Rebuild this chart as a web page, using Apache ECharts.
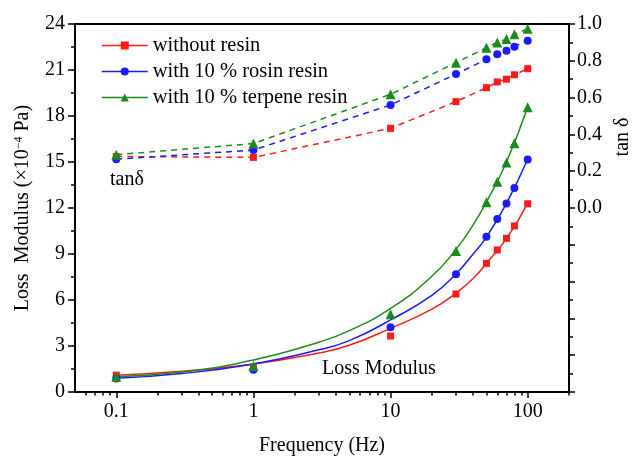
<!DOCTYPE html>
<html>
<head>
<meta charset="utf-8">
<script src="https://cdn.jsdelivr.net/npm/echarts@6/dist/echarts.min.js"></script>
<style>
html,body{margin:0;padding:0;background:#fff;}
#chart{width:632px;height:462px;}
</style>
</head>
<body>
<div id="chart"></div>
<script>
// ---- data ----
var seriesNames = ['without resin', 'with 10 % rosin resin', 'with 10 % terpene resin'];
var freq = [0.1, 1, 10, 30, 50, 60, 70, 80, 100];            // Hz
var lossRed   = [1.1, 1.6, 3.65, 6.39, 8.39, 9.26, 10.02, 10.83, 12.28];
var lossBlue  = [0.88, 1.45, 4.22, 7.68, 10.13, 11.28, 12.3, 13.3, 15.17];
var lossGreen = [1.0, 1.7, 5.07, 9.2, 12.37, 13.72, 14.96, 16.22, 18.57];
var fitFreq   = [0.1, 0.3, 1, 3, 5, 10, 20, 30, 40, 50, 70, 100];
var fitRed    = [1.1, 1.35, 1.83, 2.55, 3.05, 4.15, 5.4, 6.45, 7.4, 8.4, 10.0, 12.3];
var fitBlue   = [0.9, 1.2, 1.83, 2.75, 3.35, 4.7, 6.3, 7.7, 9.0, 10.1, 12.3, 15.2];
var fitGreen  = [1.0, 1.3, 2.09, 3.25, 4.0, 5.45, 7.55, 9.3, 10.9, 12.4, 15.0, 18.6];
var tanRed    = [0.28, 0.275, 0.433, 0.578, 0.654, 0.685, 0.70, 0.724, 0.757];
var tanBlue   = [0.265, 0.315, 0.56, 0.728, 0.808, 0.835, 0.855, 0.877, 0.909];
var tanGreen  = [0.29, 0.35, 0.618, 0.79, 0.871, 0.90, 0.918, 0.944, 0.974];
var xMajorTicks = [0.1, 1, 10, 100];
var xMinorTicks = [0.06, 0.07, 0.08, 0.09, 0.2, 0.3, 0.4, 0.5, 0.6, 0.7, 0.8, 0.9,
                   2, 3, 4, 5, 6, 7, 8, 9, 20, 30, 40, 50, 60, 70, 80, 90, 200];
var xRange = [0.05, 200];

var colors = ['#ff1a1a', '#1a1aff', '#1b8c1b'];
var symbols = ['rect', 'circle', 'triangle'];
var symSizes = [7, 8, 10];
var FONT = "'Liberation Serif', 'Times New Roman', serif";
var lg = Math.log10;

function pairs(xs, ys) { return xs.map(function (x, i) { return [lg(x), ys[i]]; }); }

var lossSets = [lossRed, lossBlue, lossGreen];
var fitSets = [fitRed, fitBlue, fitGreen];
var tanSets = [tanRed, tanBlue, tanGreen];

var series = [];
for (var k = 0; k < 3; k++) {
  series.push({
    name: seriesNames[k] + ' fit', type: 'line', xAxisIndex: 0, yAxisIndex: 0,
    data: pairs(fitFreq, fitSets[k]), smooth: 0.5, showSymbol: false,
    lineStyle: { color: colors[k], width: 1.5 }, itemStyle: { color: colors[k] },
    silent: true, z: 2
  });
  series.push({
    name: seriesNames[k] + ' loss', type: 'scatter', xAxisIndex: 0, yAxisIndex: 0,
    data: pairs(freq, lossSets[k]), symbol: symbols[k], symbolSize: symSizes[k],
    itemStyle: { color: colors[k], opacity: 1 }, z: 3
  });
  series.push({
    name: seriesNames[k], type: 'line', xAxisIndex: 0, yAxisIndex: 1,
    data: pairs(freq, tanSets[k]), symbol: symbols[k], symbolSize: symSizes[k],
    showAllSymbol: true,
    lineStyle: { color: colors[k], width: 1.5, type: [6, 5] },
    itemStyle: { color: colors[k] }, z: 3
  });
}

var chart = echarts.init(document.getElementById('chart'), null, { renderer: 'canvas' });
var axisLineStyle = { color: '#000', width: 2 };
chart.setOption({
  animation: false,
  textStyle: { fontFamily: FONT, color: '#000' },
  grid: { left: 75, right: 63, top: 24, bottom: 70, show: true, borderColor: '#000', borderWidth: 2, backgroundColor: 'transparent' },
  legend: {
    data: seriesNames, orient: 'vertical', left: 96, top: 30,
    itemWidth: 46, itemHeight: 10, itemGap: 5,
    lineStyle: { type: 'solid', width: 1.5 },
    textStyle: { fontFamily: FONT, fontSize: 20.5, color: '#000' },
    selectedMode: false
  },
  xAxis: [{
    type: 'value', min: lg(xRange[0]), max: lg(xRange[1]),
    position: 'bottom',
    axisLine: { show: true, onZero: false, lineStyle: axisLineStyle },
    axisTick: { show: true, inside: false, length: 6, lineStyle: { width: 1.5, color: '#000' }, customValues: xMajorTicks.map(lg) },
    axisLabel: { show: true, fontSize: 20, fontFamily: FONT, color: '#000', margin: 10, customValues: xMajorTicks.map(lg),
      formatter: function (v) { return String(+Math.pow(10, v).toPrecision(3)); } },
    splitLine: { show: false },
    name: 'Frequency (Hz)', nameLocation: 'middle', nameGap: 44,
    nameTextStyle: { fontSize: 20, fontFamily: FONT, color: '#000' }
  }, {
    type: 'value', min: lg(xRange[0]), max: lg(xRange[1]),
    position: 'bottom', gridIndex: 0,
    axisLine: { show: false, onZero: false },
    axisTick: { show: true, inside: false, length: 3.5, lineStyle: { width: 1.5, color: '#000' }, customValues: xMinorTicks.map(lg) },
    axisLabel: { show: false },
    splitLine: { show: false }
  }],
  yAxis: [{
    type: 'value', min: 0, max: 24, interval: 3, position: 'left',
    axisLine: { show: true, onZero: false, lineStyle: axisLineStyle },
    axisTick: { show: true, inside: false, length: 7, lineStyle: { width: 1.5, color: '#000' } },
    minorTick: { show: true, splitNumber: 2, length: 4, lineStyle: { width: 1.5, color: '#000' } },
    axisLabel: { fontSize: 20, fontFamily: FONT, color: '#000', margin: 10 },
    splitLine: { show: false },
    name: 'Loss  Modulus (\u00d710{sup|\u22124} Pa)', nameLocation: 'middle', nameGap: 42,
    nameTextStyle: { fontSize: 20, fontFamily: FONT, color: '#000',
      rich: { sup: { fontSize: 12, fontFamily: FONT, verticalAlign: 'top', lineHeight: 20, color: '#000' } } }
  }, {
    type: 'value', min: -1, max: 1, interval: 0.2, position: 'right',
    axisLine: { show: true, onZero: false, lineStyle: axisLineStyle },
    axisTick: { show: true, inside: false, length: 6, lineStyle: { width: 1.5, color: '#000' } },
    minorTick: { show: true, splitNumber: 2, length: 4, lineStyle: { width: 1.5, color: '#000' } },
    axisLabel: { fontSize: 20, fontFamily: FONT, color: '#000', margin: 8,
      formatter: function (v) { return v > -1e-9 ? v.toFixed(1) : ''; } },
    splitLine: { show: false }
  }],
  graphic: [
    { type: 'text', x: 110, y: 180, style: { text: 'tan\u03b4', font: '20px ' + FONT, fill: '#000', align: 'left', verticalAlign: 'middle' } },
    { type: 'text', x: 322, y: 369, style: { text: 'Loss Modulus', font: '20px ' + FONT, fill: '#000', align: 'left', verticalAlign: 'middle' } },
    { type: 'text', x: 623, y: 137, rotation: Math.PI / 2, style: { text: 'tan \u03b4', font: '20px ' + FONT, fill: '#000', align: 'center', verticalAlign: 'middle' } }
  ],
  series: series
});
</script>
</body>
</html>
